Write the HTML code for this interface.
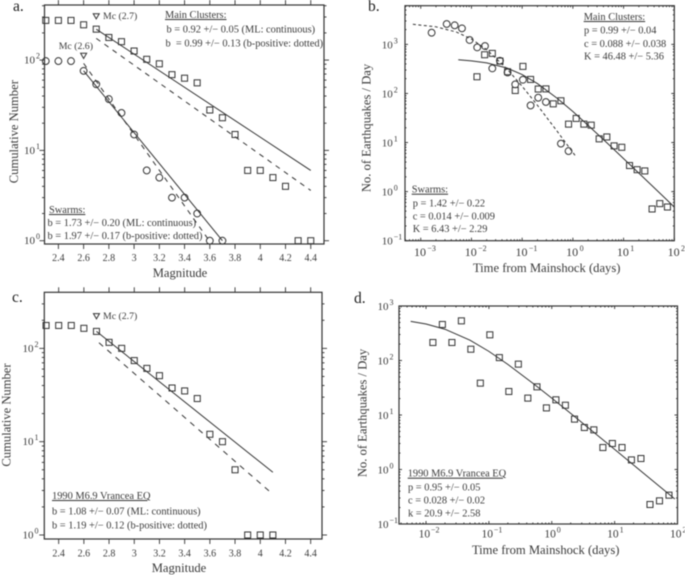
<!DOCTYPE html>
<html lang="en">
<head>
<meta charset="utf-8">
<title>Magnitude distributions and Omori decay</title>
<style>
html,body{margin:0;padding:0;background:#fff;}
body{width:685px;height:575px;overflow:hidden;}
svg{display:block;filter:blur(0.5px);}
text{font-family:"Liberation Serif",serif;fill:#3a3a3a;}
.leg{font-size:10.4px;}
.title{font-size:12.6px;}
.letter{font-size:15.5px;fill:#222;}
.mc{font-size:9.8px;}
</style>
</head>
<body>
<svg id="fig" width="685" height="575" viewBox="0 0 685 575" xmlns="http://www.w3.org/2000/svg">
  <text class="letter" x="13" y="11">a.</text>
  <text class="letter" x="368" y="11">b.</text>
  <text class="letter" x="12" y="302">c.</text>
  <text class="letter" x="354" y="303">d.</text>

  <text class="leg" x="165" y="18" text-decoration="underline">Main Clusters:</text>
  <text class="leg" x="166.5" y="32.5">b = 0.92 +/− 0.05 (ML: continuous)</text>
  <text class="leg" x="165.5" y="46.5" xml:space="preserve">b  = 0.99 +/− 0.13 (b-positive: dotted)</text>
  <text class="leg" x="49" y="213" text-decoration="underline">Swarms:</text>
  <text class="leg" x="47.5" y="226">b = 1.73 +/− 0.20 (ML: continuous)</text>
  <text class="leg" x="47.5" y="239">b = 1.97 +/− 0.17 (b-positive: dotted)</text>
  <text class="mc" x="103" y="19">Mc (2.7)</text>
  <text class="mc" x="58.7" y="49">Mc (2.6)</text>
  <text class="title" x="180" y="277" text-anchor="middle">Magnitude</text>
  <text class="title" transform="translate(18,131.7) rotate(-90)" text-anchor="middle">Cumulative Number</text>

  <text class="leg" x="583.7" y="20" text-decoration="underline">Main Clusters:</text>
  <text class="leg" x="584" y="33.5">p = 0.99 +/− 0.04</text>
  <text class="leg" x="584" y="47">c = 0.088 +/− 0.038</text>
  <text class="leg" x="584" y="59.5">K = 46.48 +/− 5.36</text>
  <text class="leg" x="411.7" y="192.7" text-decoration="underline">Swarms:</text>
  <text class="leg" x="412.7" y="206.7">p = 1.42 +/− 0.22</text>
  <text class="leg" x="412.7" y="219.5">c = 0.014 +/− 0.009</text>
  <text class="leg" x="412.7" y="232">K = 6.43 +/− 2.29</text>
  <text class="title" x="546.7" y="272" text-anchor="middle">Time from Mainshock (days)</text>
  <text class="title" transform="translate(370.7,128) rotate(-90)" text-anchor="middle">No. of Earthquakes / Day</text>

  <text class="mc" x="103" y="319">Mc (2.7)</text>
  <text class="leg" x="52" y="499" text-decoration="underline">1990 M6.9 Vrancea EQ</text>
  <text class="leg" x="52" y="514.3">b = 1.08 +/− 0.07 (ML: continuous)</text>
  <text class="leg" x="52" y="528.3">b = 1.19 +/− 0.12 (b-positive: dotted)</text>
  <text class="title" x="179" y="572" text-anchor="middle">Magnitude</text>
  <text class="title" transform="translate(10.7,415) rotate(-90)" text-anchor="middle">Cumulative Number</text>

  <text class="leg" x="407.7" y="476.7" text-decoration="underline">1990 M6.9 Vrancea EQ</text>
  <text class="leg" x="408" y="490.3">p = 0.95 +/− 0.05</text>
  <text class="leg" x="408" y="503.7">c = 0.028 +/− 0.02</text>
  <text class="leg" x="408" y="516.3">k = 20.9 +/− 2.58</text>
  <text class="title" x="545.7" y="554" text-anchor="middle">Time from Mainshock (days)</text>
  <text class="title" transform="translate(366.7,413) rotate(-90)" text-anchor="middle">No. of Earthquakes / Day</text>
</svg>
<script>
// ---- shared tick values ----
const magTicks = [2.4, 2.6, 2.8, 3, 3.2, 3.4, 3.6, 3.8, 4, 4.2, 4.4];
const magTickLabels = ['2.4', '2.6', '2.8', '3', '3.2', '3.4', '3.6', '3.8', '4', '4.2', '4.4'];

// ---- panel a data ----
const aMagnitudes = [2.3, 2.4, 2.5, 2.6, 2.7, 2.8, 2.9, 3.0, 3.1, 3.2, 3.3, 3.4, 3.5, 3.6, 3.7, 3.8, 3.9, 4.0, 4.1, 4.2, 4.3, 4.4];
const aMainCounts = [275, 275, 275, 246, 220, 178, 160, 126, 102, 91, 69, 63, 56, 28, 23, 15, 6, 6, 5, 4, 1, 1];
const aSwarmMagnitudes = [2.3, 2.4, 2.5, 2.6, 2.7, 2.8, 2.9, 3.0, 3.1, 3.2, 3.3, 3.4, 3.5, 3.6, 3.7];
const aSwarmCounts = [97.5, 97.5, 97.5, 76, 54, 37, 26, 15, 6, 5, 3, 3, 2, 1, 1];
const aMainMlMags = [2.7, 4.4];
const aMainMlFit = [220, 6];
const aMainBposMags = [2.7, 4.4];
const aMainBposFit = [174, 3.6];
const aSwarmMlMags = [2.6, 3.7];
const aSwarmMlFit = [76, 1];
const aSwarmBposMags = [2.6, 3.6];
const aSwarmBposFit = [92, 0.98];
const aMcMags = [2.7, 2.6];
const aMcCounts = [307, 112];

// ---- panel b data ----
const bSwarmTimes = [0.00164, 0.00325, 0.00467, 0.0065, 0.0092, 0.013, 0.0185, 0.0258, 0.0365, 0.0516, 0.0731, 0.1035, 0.1466, 0.2075, 0.294, 0.581, 0.822];
const bSwarmRates = [1730, 2600, 2443, 2120, 1226, 868, 925, 324, 464, 268, 153, 190, 57, 82, 67, 9.5, 6.7];
const bMainTimes = [0.01285, 0.0182, 0.0258, 0.0365, 0.0516, 0.0731, 0.1035, 0.1466, 0.2075, 0.294, 0.41, 0.581, 0.822, 1.163, 1.647, 2.3, 3.3, 4.67, 6.5, 9.2, 13.1, 18.5, 26.2, 36.5, 51.7, 73.2];
const bMainRates = [219, 615, 655, 457, 277, 115, 356, 193, 123, 124, 61.5, 71, 23.7, 31, 23.7, 22.6, 11.9, 13, 8.55, 8, 3.4, 2.8, 2.64, 0.443, 0.57, 0.486];
const bMainCurveT = [0.0055, 0.01, 0.02, 0.05, 0.1, 0.2, 0.5, 1, 2, 5, 10, 20, 50, 100];
const bMainCurveR = [485, 462, 420, 330, 243, 159, 78.6, 42.8, 22.4, 9.3, 4.71, 2.38, 0.966, 0.487];
const bSwarmCurveT = [0.0007, 0.002, 0.005, 0.01, 0.02, 0.05, 0.1, 0.2, 0.5, 1.16];
const bSwarmCurveR = [2570, 2280, 1791, 1284, 782, 318, 140, 57.5, 16.5, 5.1];

// ---- panel c data ----
const cMagnitudes = [2.3, 2.4, 2.5, 2.6, 2.7, 2.8, 2.9, 3.0, 3.1, 3.2, 3.3, 3.4, 3.5, 3.6, 3.7, 3.8, 3.9, 4.0, 4.1];
const cCounts = [176, 176, 176, 164, 152, 116, 100, 74, 61, 51, 37.6, 35, 29, 12, 10, 5, 1, 1, 1];
const cMlMags = [2.7, 4.1];
const cMlFit = [152, 4.7];
const cBposMags = [2.72, 4.1];
const cBposFit = [115, 2.73];
const cMcMags = [2.7];
const cMcCounts = [222];

// ---- panel d data ----
const dTimes = [0.01285, 0.0182, 0.0258, 0.0365, 0.0516, 0.0731, 0.1035, 0.1466, 0.2075, 0.294, 0.416, 0.581, 0.822, 1.163, 1.647, 2.3, 3.3, 4.67, 6.5, 9.2, 13.1, 18.5, 26.2, 36.5, 51.7, 73.2];
const dRates = [214, 458, 214, 534, 161, 38.4, 296, 113, 27, 85.7, 20.4, 32.9, 13.5, 19, 15.1, 8.4, 5.9, 5.34, 2.53, 3.0, 2.53, 1.5, 1.59, 0.228, 0.266, 0.338];
const dCurveT = [0.0057, 0.01, 0.02, 0.05, 0.1, 0.2, 0.5, 1, 2, 5, 10, 20, 50, 90.7];
const dCurveR = [522, 467, 375, 236, 147, 85, 38.3, 20.4, 10.7, 4.5, 2.34, 1.21, 0.507, 0.288];

const svg = document.getElementById('fig');
const NS = 'http://www.w3.org/2000/svg';
const INK = '#333';

function mk(tag, name, parent, props) {
  const el = document.createElementNS(NS, tag);
  
  
  for (const k in props) el.setAttribute(k, props[k]);
  parent.appendChild(el);
  return el;
}

function linearAxis(d0, d1, p0, p1) {
  return function (v) { return p0 + (v - d0) / (d1 - d0) * (p1 - p0); };
}
function logAxis(e0, e1, p0, p1) {
  return function (v) { return p0 + (Math.log10(v) - e0) / (e1 - e0) * (p1 - p0); };
}

function polyline(name, g, sx, sy, xs, ys, dashed) {
  const pts = xs.map(function (x, i) { return sx(x).toFixed(2) + ',' + sy(ys[i]).toFixed(2); }).join(' ');
  const props = { points: pts, fill: 'none', stroke: INK, 'stroke-width': 1 };
  if (dashed) props['stroke-dasharray'] = dashed;
  mk('polyline', name, g, props);
}
function squares(name, g, sx, sy, xs, ys) {
  xs.forEach(function (x, i) {
    mk('rect', name, g, { x: sx(x) - 3, y: sy(ys[i]) - 3, width: 6, height: 6, fill: 'none', stroke: INK, 'stroke-width': 1 });
  });
}
function circles(name, g, sx, sy, xs, ys) {
  xs.forEach(function (x, i) {
    mk('circle', name, g, { cx: sx(x), cy: sy(ys[i]), r: 3.4, fill: 'none', stroke: INK, 'stroke-width': 1 });
  });
}
function triangles(name, g, sx, sy, xs, ys) {
  xs.forEach(function (x, i) {
    const cx = sx(x), cy = sy(ys[i]);
    mk('polygon', name, g, { points: (cx - 3) + ',' + (cy - 2.4) + ' ' + (cx + 3) + ',' + (cy - 2.4) + ' ' + cx + ',' + (cy + 2.8), fill: 'none', stroke: INK, 'stroke-width': 1 });
  });
}
function frame(id, g, f, w) {
  mk('rect', id + '-frame', g, { x: f.l, y: f.t, width: f.r - f.l, height: f.b - f.t, fill: 'none', stroke: INK, 'stroke-width': w });
}
function tick(name, g, x1, y1, x2, y2) {
  mk('line', name, g, { x1: x1, y1: y1, x2: x2, y2: y2, stroke: INK, 'stroke-width': 0.9 });
}
function powerLabel(id, g, x, y, exp, anchorMode, size) {
  const expStr = exp < 0 ? '−' + Math.abs(exp) : String(exp);
  const t = mk('text', id + '-tick-label', g, { x: x, y: y, 'font-size': size, 'text-anchor': anchorMode });
  t.textContent = '10';
  const e = mk('text', id + '-tick-exponent', g, { 'font-size': 8, y: y - 5 });
  e.textContent = expStr;
  return e;
}

// Magnitude (linear x, log y) panels: ticks point outward on every side
function magPanel(id, f, sx, sy, exps, xLabelY, yLabelRight) {
  const g = mk('g', id + '-axes', svg, {});
  frame(id, g, f, 1.2);
  magTicks.forEach(function (v, i) {
    const px = sx(v);
    tick(id + '-x-tick-top', g, px, f.t, px, f.t - 5);
    tick(id + '-x-tick-bottom', g, px, f.b, px, f.b + 5);
    const t = mk('text', id + '-x-tick-label', g, { x: px, y: xLabelY, 'font-size': 10, 'text-anchor': 'middle' });
    t.textContent = magTickLabels[i];
  });
  exps.forEach(function (e) {
    const py = sy(Math.pow(10, e));
    tick(id + '-y-tick-left', g, f.l, py, f.l - 5, py);
    tick(id + '-y-tick-right', g, f.r, py, f.r + 5, py);
    const lab = powerLabel(id + '-y', g, yLabelRight, py + 3.5, e, 'end', 11);
    lab.setAttribute('x', yLabelRight + 1);
    for (let m = 2; m < 10; m++) {
      const pm = sy(m * Math.pow(10, e));
      if (pm < f.t) continue;
      tick(id + '-y-minor-tick-left', g, f.l, pm, f.l - 2.5, pm);
      tick(id + '-y-minor-tick-right', g, f.r, pm, f.r + 2.5, pm);
    }
  });
  return g;
}

// Time (log x, log y) panels: ticks point inward
function timePanel(id, f, sx, sy, xExps, yExps, xLabelY, yLabelRight, xSize, xShift, xExpShift) {
  const g = mk('g', id + '-axes', svg, {});
  frame(id, g, f, 1.2);
  const allX = xExps.slice();
  allX.unshift(xExps[0] - 1);
  allX.forEach(function (e) {
    const base = Math.pow(10, e);
    if (xExps.indexOf(e) >= 0) {
      const px = sx(base);
      tick(id + '-x-tick-top', g, px, f.t, px, f.t + 3);
      tick(id + '-x-tick-bottom', g, px, f.b, px, f.b - 3);
      const lab = powerLabel(id + '-x', g, px + xShift, xLabelY, e, 'middle', xSize);
      lab.setAttribute('x', px + xExpShift);
    }
    for (let m = 2; m < 10; m++) {
      const pm = sx(m * base);
      if (pm < f.l || pm > f.r) continue;
      tick(id + '-x-minor-tick-top', g, pm, f.t, pm, f.t + 1.5);
      tick(id + '-x-minor-tick-bottom', g, pm, f.b, pm, f.b - 1.5);
    }
  });
  yExps.forEach(function (e) {
    const base = Math.pow(10, e);
    const py = sy(base);
    tick(id + '-y-tick-left', g, f.l, py, f.l + 3, py);
    tick(id + '-y-tick-right', g, f.r, py, f.r - 3, py);
    const lab = powerLabel(id + '-y', g, yLabelRight, py + 4, e, 'end', 11);
    lab.setAttribute('x', yLabelRight + 1);
    for (let m = 2; m < 10; m++) {
      const pm = sy(m * base);
      if (pm < f.t) continue;
      tick(id + '-y-minor-tick-left', g, f.l, pm, f.l + 1.5, pm);
      tick(id + '-y-minor-tick-right', g, f.r, pm, f.r - 1.5, pm);
    }
  });
  return g;
}

// ---- panel a ----
const fa = { l: 44.5, r: 324, t: 5, b: 244 };
const xa = linearAxis(2.29, 4.505, fa.l, fa.r);
const ya = logAxis(-0.0365, 2.61, fa.b, fa.t);
const ga = magPanel('a', fa, xa, ya, [0, 1, 2], 261, 35);
polyline('a-main-ml-fit-line', ga, xa, ya, aMainMlMags, aMainMlFit);
polyline('a-main-bpositive-fit-line', ga, xa, ya, aMainBposMags, aMainBposFit, '5,5');
polyline('a-swarm-ml-fit-line', ga, xa, ya, aSwarmMlMags, aSwarmMlFit);
polyline('a-swarm-bpositive-fit-line', ga, xa, ya, aSwarmBposMags, aSwarmBposFit, '5,5');
squares('a-main-point', ga, xa, ya, aMagnitudes, aMainCounts);
circles('a-swarm-point', ga, xa, ya, aSwarmMagnitudes, aSwarmCounts);
triangles('a-mc-marker', ga, xa, ya, aMcMags, aMcCounts);

// ---- panel b ----
const fb = { l: 405, r: 674.3, t: 5.7, b: 240.7 };
const xb = logAxis(-3.31, 2, fb.l, fb.r);
const yb = logAxis(-1, 3.788, fb.b, fb.t);
const gb = timePanel('b', fb, xb, yb, [-3, -2, -1, 0, 1, 2], [-1, 0, 1, 2, 3], 256, 392.7, 12, -0.7, 6.7);
polyline('b-main-omori-curve', gb, xb, yb, bMainCurveT, bMainCurveR);
polyline('b-swarm-omori-curve', gb, xb, yb, bSwarmCurveT, bSwarmCurveR, '3,2.5');
squares('b-main-point', gb, xb, yb, bMainTimes, bMainRates);
circles('b-swarm-point', gb, xb, yb, bSwarmTimes, bSwarmRates);

// ---- panel c ----
const fc = { l: 44.3, r: 322, t: 292.3, b: 539 };
const xc = linearAxis(2.286, 4.49, fc.l, fc.r);
const yc = logAxis(-0.043, 2.601, fc.b, fc.t);
const gc = magPanel('c', fc, xc, yc, [0, 1, 2], 556.7, 33.5);
polyline('c-ml-fit-line', gc, xc, yc, cMlMags, cMlFit);
polyline('c-bpositive-fit-line', gc, xc, yc, cBposMags, cBposFit, '5.5,5.5');
squares('c-point', gc, xc, yc, cMagnitudes, cCounts);
triangles('c-mc-marker', gc, xc, yc, cMcMags, cMcCounts);

// ---- panel d ----
const fd = { l: 399, r: 677.5, t: 306, b: 524 };
const xd = logAxis(-2.43, 2, fd.l, fd.r);
const yd = logAxis(-1, 3, fd.b, fd.t);
const gd = timePanel('d', fd, xd, yd, [-2, -1, 0, 1, 2], [-1, 0, 1, 2, 3], 537.7, 388.5, 11.5, -1.7, 5);
polyline('d-omori-curve', gd, xd, yd, dCurveT, dCurveR);
squares('d-point', gd, xd, yd, dTimes, dRates);
</script>
</body>
</html>
